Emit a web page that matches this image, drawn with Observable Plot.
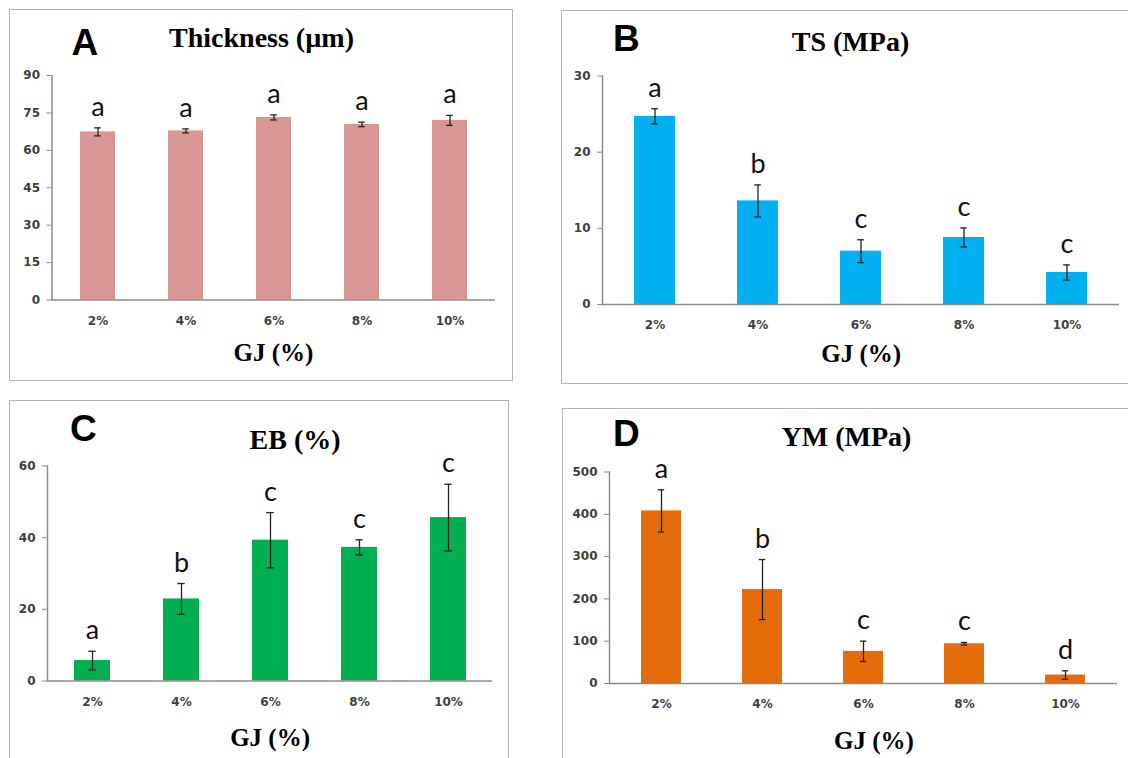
<!DOCTYPE html>
<html><head><meta charset="utf-8">
<script src="https://cdn.jsdelivr.net/npm/d3@7"></script>
<script src="https://cdn.jsdelivr.net/npm/@observablehq/plot@0.6"></script>
<style>
html,body{margin:0;padding:0;background:#fff;overflow:hidden;width:1128px;height:758px;}
#root{position:relative;width:1128px;height:758px;overflow:hidden;background:#fff;}
.panel{position:absolute;outline:1.5px solid #b4b4b4;outline-offset:-1.5px;}
.panel svg{position:absolute;left:0;top:0;}
</style></head><body><div id="root"></div>
<script>
// ---- data ----
const categories = ["2%", "4%", "6%", "8%", "10%"];
const xLabel = "GJ (%)";

const thicknessMean = [67.4, 67.8, 73.2, 70.4, 72.0];
const thicknessErr = [1.6, 0.8, 1.0, 0.9, 2.0];
const thicknessLetters = ["a", "a", "a", "a", "a"];
const thicknessTicks = [0, 15, 30, 45, 60, 75, 90];

const tsMean = [24.7, 13.6, 7.0, 8.8, 4.2];
const tsErr = [1.0, 2.1, 1.5, 1.25, 1.0];
const tsLetters = ["a", "b", "c", "c", "c"];
const tsTicks = [0, 10, 20, 30];

const ebMean = [5.7, 22.9, 39.3, 37.3, 45.6];
const ebErr = [2.6, 4.3, 7.7, 2.1, 9.3];
const ebLetters = ["a", "b", "c", "c", "c"];
const ebTicks = [0, 20, 40, 60];

const ymMean = [408, 222, 76, 94, 20];
const ymErr = [50, 71, 24, 3, 10];
const ymLetters = ["a", "b", "c", "c", "d"];
const ymTicks = [0, 100, 200, 300, 400, 500];

const panelTags = ["A", "B", "C", "D"];
const panelTitles = ["Thickness (µm)", "TS (MPa)", "EB (%)", "YM (MPa)"];

// ---- layout / style ----
const panels = [
  {tag: panelTags[0], title: panelTitles[0], mean: thicknessMean, err: thicknessErr, letters: thicknessLetters, ticks: thicknessTicks, color: "#d99694",
   box: {left: 9, top: 9, width: 504, height: 372}, m: {left: 42.5, right: 18, top: 66, bottom: 81.5},
   tagPos: [62, 45], titlePos: [252, 37.7], xlabPos: [264, 351.5]},
  {tag: panelTags[1], title: panelTitles[1], mean: tsMean, err: tsErr, letters: tsLetters, ticks: tsTicks, color: "#00b0f0",
   box: {left: 561, top: 10, width: 580, height: 374}, m: {left: 41, right: 22, top: 65.5, bottom: 80},
   tagPos: [51.5, 40], titlePos: [289, 40], xlabPos: [299.7, 351.5]},
  {tag: panelTags[2], title: panelTitles[2], mean: ebMean, err: ebErr, letters: ebLetters, ticks: ebTicks, color: "#00b050",
   box: {left: 9, top: 400, width: 500, height: 375}, m: {left: 38, right: 17, top: 65.5, bottom: 94.5},
   tagPos: [60.6, 40], titlePos: [285.6, 48.3], xlabPos: [260.6, 345]},
  {tag: panelTags[3], title: panelTitles[3], mean: ymMean, err: ymErr, letters: ymLetters, ticks: ymTicks, color: "#e46c0a",
   box: {left: 562, top: 408, width: 580, height: 370}, m: {left: 47, right: 25, top: 63.5, bottom: 95},
   tagPos: [50.5, 37], titlePos: [284, 37], xlabPos: [311.4, 340]}
];

const root = document.getElementById("root");
const tickFont = "DejaVu Sans, Verdana, sans-serif";
const letterFont = "Lato, 'Open Sans', sans-serif";
const serif = "'Liberation Serif', 'Times New Roman', serif";
const tagFont = "'Liberation Sans', Arial, sans-serif";

for (const p of panels) {
  const rows = categories.map((c, i) => ({cat: c, mean: p.mean[i], err: p.err[i], letter: p.letters[i]}));
  const {left: ml, right: mr, top: mt, bottom: mb} = p.m;
  const W = p.box.width, H = p.box.height;
  const bandW = (W - ml - mr) / categories.length * 0.4;
  const capInset = (bandW - 7) / 2;
  const ymax = p.ticks[p.ticks.length - 1];

  const svg = Plot.plot({
    width: W, height: H,
    marginLeft: ml, marginRight: mr, marginTop: mt, marginBottom: mb,
    style: {background: "transparent", overflow: "visible"},
    x: {type: "band", domain: categories, paddingInner: 0.6, paddingOuter: 0.3, label: null},
    y: {domain: [0, ymax], label: null},
    marks: [
      Plot.barY(rows, {x: "cat", y: "mean", fill: p.color}),
      Plot.ruleY([0], {stroke: "#8c8c8c", strokeWidth: 1.5}),
      Plot.frame({anchor: "left", stroke: "#8c8c8c", strokeWidth: 1.5}),
      Plot.axisY({ticks: p.ticks, tickSize: 5, tickPadding: 7, stroke: "#8c8c8c", fill: "#3f3f3f",
        fontSize: 12, fontWeight: "bold", fontFamily: tickFont, label: null}),
      Plot.axisX({tickSize: 0, tickPadding: 16, fill: "#3f3f3f",
        fontSize: 12, fontWeight: "bold", fontFamily: tickFont, label: null}),
      Plot.ruleX(rows, {x: "cat", y1: d => d.mean - d.err, y2: d => d.mean + d.err, stroke: "#222", strokeWidth: 1.3}),
      Plot.tickY(rows, {x: "cat", y: d => d.mean + d.err, stroke: "#222", strokeWidth: 1.3, insetLeft: capInset, insetRight: capInset}),
      Plot.tickY(rows, {x: "cat", y: d => d.mean - d.err, stroke: "#222", strokeWidth: 1.3, insetLeft: capInset, insetRight: capInset}),
      Plot.text(rows, {x: "cat", y: d => d.mean + d.err, text: "letter", dy: -12, lineAnchor: "bottom",
        fontSize: 27, fontFamily: letterFont, fill: "#111"}),
      Plot.text([p.tag], {frameAnchor: "top-left", dx: p.tagPos[0] - ml, dy: p.tagPos[1] - mt, text: d => d,
        textAnchor: "start", lineAnchor: "bottom", fontSize: 37, fontWeight: "bold", fontFamily: tagFont, fill: "#000"}),
      Plot.text([p.title], {frameAnchor: "top-left", dx: p.titlePos[0] - ml, dy: p.titlePos[1] - mt, text: d => d,
        textAnchor: "middle", lineAnchor: "bottom", fontSize: 28, fontWeight: "bold", fontFamily: serif, fill: "#000"}),
      Plot.text([xLabel], {frameAnchor: "top-left", dx: p.xlabPos[0] - ml, dy: p.xlabPos[1] - mt, text: d => d,
        textAnchor: "middle", lineAnchor: "bottom", fontSize: 25, fontWeight: "bold", fontFamily: serif, fill: "#000"})
    ]
  });

  const div = document.createElement("div");
  div.className = "panel";
  Object.assign(div.style, {left: p.box.left + "px", top: p.box.top + "px", width: W + "px", height: H + "px"});
  div.appendChild(svg);
  root.appendChild(div);
}
</script></body></html>
